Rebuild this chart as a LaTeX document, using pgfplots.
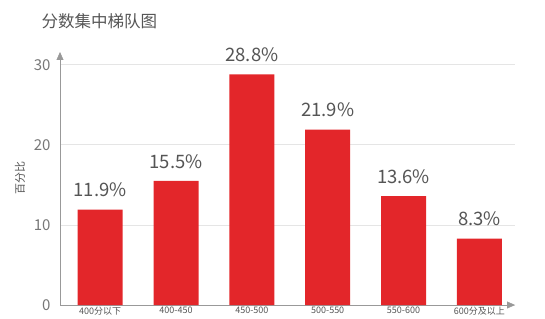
\documentclass[border=0pt]{standalone}
\usepackage{fontspec}
\setmainfont{Noto Sans CJK SC}
\usepackage{pgfplots}
\pgfplotsset{compat=1.18}
\usetikzlibrary{arrows.meta}
\definecolor{barred}{HTML}{E3262A}
\definecolor{txt}{HTML}{555555}
\begin{document}
\begin{tikzpicture}[x=1pt,y=1pt]
\path[use as bounding box] (0,0) rectangle (545,318);
\clip (0,0) rectangle (545,318);
\node[anchor=west,font=\fontsize{16.5}{18}\selectfont,text=txt] at (38,297) {分数集中梯队图};
\begin{axis}[
  at={(60pt,13pt)}, anchor=south west,
  scale only axis, width=455pt, height=253pt,
  xmin=-0.53, xmax=5.47, ymin=0, ymax=31.6,
  axis lines=left,
  axis line style={gray!80, -{Triangle[width=7pt,length=8pt]}},
  ytick={0,10,20,30},
  xtick={0,1,2,3,4,5},
  xticklabels={400分以下,400-450,450-500,500-550,550-600,600分及以上},
  x tick label style={font=\fontsize{9}{10}\selectfont, text=txt, inner sep=0pt, yshift=-2pt},
  y tick label style={font=\fontsize{15}{16}\selectfont, text=txt!80, xshift=-6pt},
  /pgf/number format/assume math mode=true,
  major tick length=0pt,
  ymajorgrids, grid style={gray!20, line width=0.8pt},
  ylabel={百分比}, ylabel style={font=\fontsize{11}{12}\selectfont, text=txt, at={(-40pt,0.5)}, anchor=center},
  ybar, bar width=45pt,
  nodes near coords={\pgfmathprintnumber[fixed,precision=1,fixed zerofill]{\pgfplotspointmeta}\%},
  nodes near coords style={font=\fontsize{18.5}{20}\selectfont, text=txt, anchor=south, yshift=9pt},
  point meta=y,
]
\addplot[fill=barred, draw=none] coordinates {(0,11.9) (1,15.5) (2,28.8) (3,21.9) (4,13.6) (5,8.3)};
\end{axis}
\end{tikzpicture}
\end{document}
